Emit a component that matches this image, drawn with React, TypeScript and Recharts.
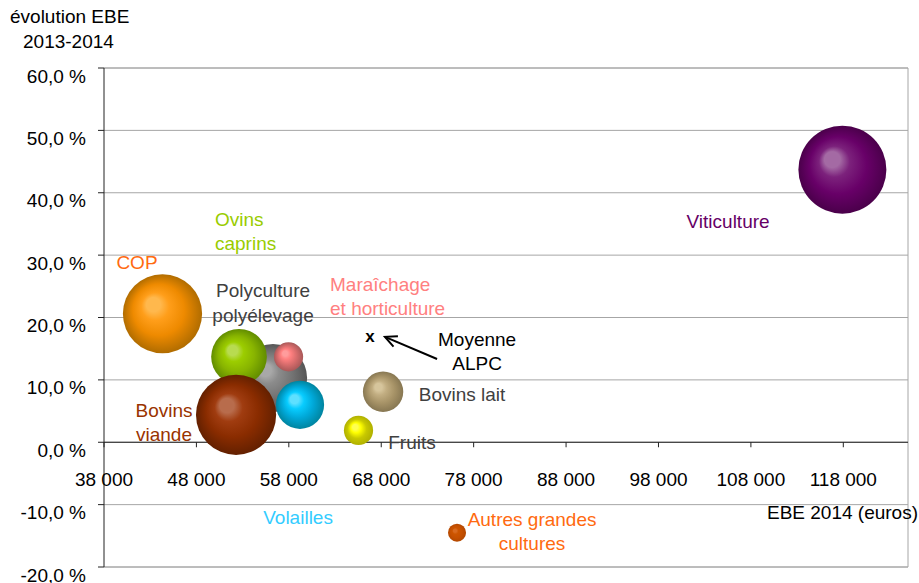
import React from "react";
import {
  ScatterChart, Scatter, XAxis, YAxis, ZAxis, CartesianGrid, ReferenceLine,
} from "recharts";

// filières, EBE 2014 (euros), évolution EBE 2013-2014 (%), poids relatif de la bulle
const filieres = [
  "Viticulture", "COP", "Polyculture polyélevage", "Maraîchage et horticulture",
  "Ovins caprins", "Volailles", "Bovins viande", "Fruits", "Bovins lait", "Autres grandes cultures",
];
const ebe2014 = [117900, 44330, 56290, 57970, 52610, 59210, 52290, 65540, 68200, 76200];
const evolution = [43.7, 20.6, 10.3, 13.7, 13.7, 6.0, 4.4, 1.9, 8.1, -14.5];
const poids = [100, 81, 60, 11, 40, 30, 83, 11, 21, 4.2];

const moyenneALPC = { x: 66790, y: 17.0 };

const xTicks = [38000, 48000, 58000, 68000, 78000, 88000, 98000, 108000, 118000];
const yTicks = [-20, -10, 0, 10, 20, 30, 40, 50, 60];

const X_MIN = 38000;
const X_MAX = 125000;
const Y_MIN = -20;
const Y_MAX = 60;

const W = 919;
const H = 583;
const TOP = 68;
const RIGHT = 11;
const AXIS_W = 104;
const XAXIS_H = 16;
const PLOT_H = H - TOP - XAXIS_H;
const Y_ZERO = TOP + (PLOT_H * (Y_MAX - 0)) / (Y_MAX - Y_MIN);
const MAX_R = 44;

const FONT = "'Liberation Sans', Arial, sans-serif";
const FS = 19;

// gradient stops: highlight, light, base, edge
const bubbleColors: Record<string, string[]> = {
  "Viticulture": ["#a46aa4", "#7c227c", "#680068", "#4a004a"],
  "COP": ["#ffb84d", "#ff9e1a", "#ee8a00", "#b06c00"],
  "Polyculture polyélevage": ["#a8a8a8", "#8c8c8c", "#747474", "#555555"],
  "Maraîchage et horticulture": ["#ff9c9c", "#ff8080", "#d86c6c", "#a85858"],
  "Ovins caprins": ["#b8db50", "#9ccd00", "#88b400", "#618c00"],
  "Volailles": ["#5ee0ff", "#08ccff", "#00a8d8", "#00849f"],
  "Bovins viande": ["#b86c4c", "#a03c10", "#8a2c00", "#632000"],
  "Fruits": ["#ffff50", "#ffff00", "#c8c800", "#b0b000"],
  "Bovins lait": ["#d6c59c", "#c2ae82", "#a89468", "#877752"],
  "Autres grandes cultures": ["#d86a20", "#cc5500", "#c65000", "#b34800"],
};

const labels = [
  { lines: ["Viticulture"], x: 105530, y: 35.5, color: "#660066", anchor: "middle" },
  { lines: ["Ovins", "caprins"], x: 50010, y: 35.8, color: "#99cc00", anchor: "start" },
  { lines: ["COP"], x: 41570, y: 28.9, color: "#ff6a10", anchor: "middle" },
  { lines: ["Polyculture", "polyélevage"], x: 55210, y: 24.4, color: "#404040", anchor: "middle" },
  { lines: ["Maraîchage", "et horticulture"], x: 62460, y: 25.4, color: "#ff8080", anchor: "start" },
  { lines: ["Moyenne", "ALPC"], x: 78370, y: 16.6, color: "#000000", anchor: "middle" },
  { lines: ["Bovins lait"], x: 76740, y: 7.7, color: "#404040", anchor: "middle" },
  { lines: ["Bovins", "viande"], x: 44490, y: 5.2, color: "#993300", anchor: "middle" },
  { lines: ["Fruits"], x: 71330, y: 0.0, color: "#404040", anchor: "middle" },
  { lines: ["Volailles"], x: 59000, y: -12.0, color: "#33ccff", anchor: "middle" },
  { lines: ["Autres grandes", "cultures"], x: 84320, y: -12.3, color: "#ff6a10", anchor: "middle" },
];

const bubbles = filieres.map((name, i) => ({
  name, id: `b${i}`, x: ebe2014[i], y: evolution[i], z: poids[i],
}));

const fmtPct = (v: number) => `${v.toFixed(1).replace(".", ",")} %`;
const fmtEuro = (v: number) => `${Math.floor(v / 1000)} ${String(v % 1000).padStart(3, "0")}`;

const Bubble = (props: any) => {
  const { cx, cy, width, payload } = props;
  const r = (width ?? 0) / 2;
  return <circle cx={cx} cy={cy} r={r} fill={`url(#${payload.id})`} />;
};

const LabelShape = (props: any) => {
  const { cx, cy, payload } = props;
  return (
    <text
      x={cx} y={cy} fill={payload.color} fontSize={FS} fontFamily={FONT}
      textAnchor={payload.anchor} dominantBaseline="central"
    >
      {payload.lines.map((l: string, i: number) => (
        <tspan key={i} x={cx} dy={i === 0 ? 0 : 24.5}>{l}</tspan>
      ))}
    </text>
  );
};

const Cross = (props: any) => (
  <text
    x={props.cx} y={props.cy} fontSize={17} fontWeight="bold" fontFamily={FONT}
    textAnchor="middle" dominantBaseline="central" fill="#000"
  >
    x
  </text>
);

const Arrow = (props: any) => {
  const { x1, y1, x2, y2 } = props;
  const a = Math.atan2(y2 - y1, x2 - x1);
  const h = 13;
  const s = 0.45;
  return (
    <g stroke="#000" strokeWidth={2} fill="none">
      <line x1={x1} y1={y1} x2={x2} y2={y2} />
      <polyline
        points={`${x2 - h * Math.cos(a - s)},${y2 - h * Math.sin(a - s)} ${x2},${y2} ${x2 - h * Math.cos(a + s)},${y2 - h * Math.sin(a + s)}`}
      />
    </g>
  );
};

const YTick = (props: any) => (
  <text
    x={props.x} y={props.y + 8} textAnchor="end" dominantBaseline="central"
    fontSize={FS} fontFamily={FONT} fill="#000"
  >
    {fmtPct(props.payload.value)}
  </text>
);

const XTick = (props: any) => (
  <g>
    <line x1={props.x} x2={props.x} y1={Y_ZERO} y2={Y_ZERO + 5} stroke="#222" />
    <text
      x={props.x} y={Y_ZERO + 37} textAnchor="middle" dominantBaseline="central"
      fontSize={FS} fontFamily={FONT} fill="#000"
    >
      {fmtEuro(props.payload.value)}
    </text>
  </g>
);

export default function App() {
  return (
    <div style={{ position: "fixed", left: 0, top: 0, width: W, height: H, background: "#fff", fontFamily: FONT, overflow: "visible" }}>
      <div style={{ position: "absolute", left: 10, top: 5, fontSize: FS, lineHeight: "24px" }}>évolution EBE</div>
      <div style={{ position: "absolute", left: 23, top: 30, fontSize: FS, lineHeight: "24px" }}>2013-2014</div>
      <ScatterChart width={W} height={H} margin={{ top: TOP, right: RIGHT, bottom: 0, left: 0 }} style={{ overflow: "visible" }}>
        <defs>
          {bubbles.map((b) => {
            const c = bubbleColors[b.name];
            return (
              <radialGradient key={b.id} id={b.id} cx="0.5" cy="0.5" r="0.5" fx="0.36" fy="0.36">
                <stop offset="0%" stopColor={c[0]} />
                <stop offset="18%" stopColor={c[0]} />
                <stop offset="35%" stopColor={c[1]} />
                <stop offset="65%" stopColor={c[2]} />
                <stop offset="100%" stopColor={c[3]} />
              </radialGradient>
            );
          })}
        </defs>
        <CartesianGrid vertical={false} stroke="#a6a6a6" />
        <XAxis
          type="number" dataKey="x" domain={[X_MIN, X_MAX]} ticks={xTicks} interval={0}
          axisLine={false} tickLine={false} height={XAXIS_H} tick={<XTick />}
        />
        <YAxis
          type="number" dataKey="y" domain={[Y_MIN, Y_MAX]} ticks={yTicks} interval={0}
          width={AXIS_W} axisLine={{ stroke: "#222" }} tickLine={{ stroke: "#222" }}
          tickSize={6} tickMargin={12} tick={<YTick />}
        />
        <ZAxis type="number" dataKey="z" domain={[0, 100]} range={[0, Math.PI * MAX_R * MAX_R]} />
        <ReferenceLine y={Y_MAX} stroke="#a6a6a6" />
        <ReferenceLine y={Y_MIN} stroke="#a6a6a6" />
        <ReferenceLine x={X_MAX} stroke="#a6a6a6" />
        <ReferenceLine y={0} stroke="#222" />
        <Scatter data={bubbles} shape={<Bubble />} isAnimationActive={false} />
        <Scatter data={[moyenneALPC]} shape={<Cross />} isAnimationActive={false} />
        <ReferenceLine
          segment={[{ x: 74040, y: 13.35 }, { x: 68400, y: 16.9 }]}
          shape={<Arrow />}
        />
        <Scatter data={labels} shape={<LabelShape />} isAnimationActive={false} />
      </ScatterChart>
      <div style={{ position: "absolute", right: 1, top: 501, fontSize: FS, lineHeight: "24px" }}>EBE 2014 (euros)</div>
    </div>
  );
}
